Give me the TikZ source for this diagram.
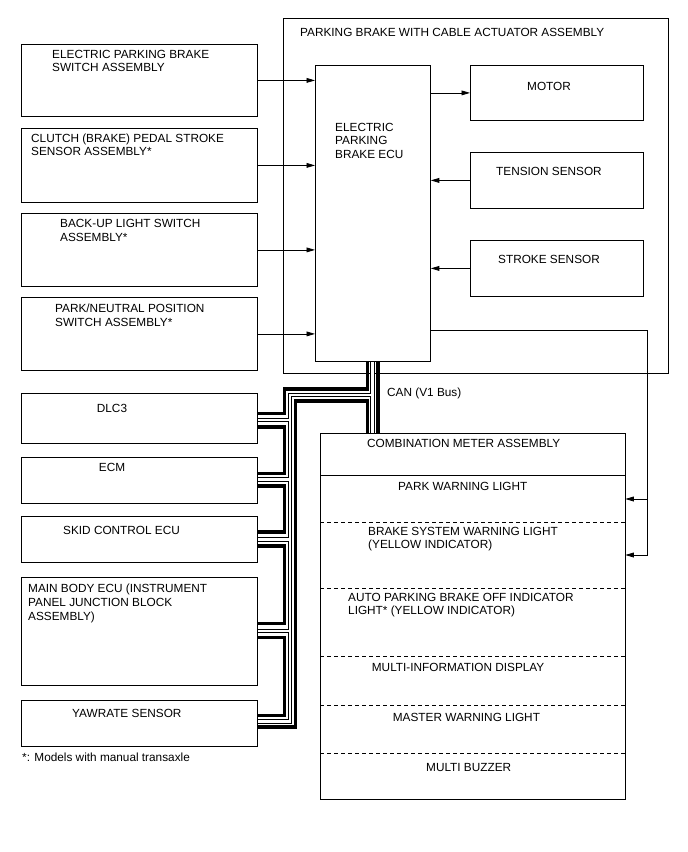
\documentclass[tikz,border=0pt]{standalone}
\usepackage{fontspec}
\setmainfont{Liberation Sans}
\usetikzlibrary{arrows.meta,positioning}
\newcommand{\epbfont}{\fontsize{11.8}{13.8}\selectfont}
\tikzset{
  epbbox/.style={draw, line width=0.8pt, anchor=north west, inner sep=0pt},
  epbtxt/.style={anchor=base west, inner sep=0pt, align=left, font=\epbfont},
  epbarr/.style={-{Triangle[length=8.5pt,width=4.8pt]}, line width=0.8pt},
  canthick/.style={line width=3.8pt},
  canouter/.style={line width=4.4pt},
  caninner/.style={line width=2.2pt, draw=white, shorten <=0.5pt, shorten >=0.5pt},
  sepdash/.style={line width=0.8pt, dash pattern=on 4pt off 3pt}
}
\begin{document}
\begin{tikzpicture}[x=1pt, y=-1pt]
\useasboundingbox (0,0) rectangle (688,852);
% inputs to the ECU (base of a text node = its last line)
\node[epbbox, minimum width=236pt, minimum height=72pt] (swepb) at (21,44) {};
\node[epbbox, minimum width=236pt, minimum height=74pt] (clutch) at (21,128) {};
\node[epbbox, minimum width=236pt, minimum height=73pt] (backup) at (21,213) {};
\node[epbbox, minimum width=236pt, minimum height=73pt] (pnpos) at (21,297) {};
\node[epbtxt] (swepbtxt) at (52,71.8) {ELECTRIC PARKING BRAKE\\SWITCH ASSEMBLY};
\node[epbtxt] (clutchtxt) at (31,155.8) {CLUTCH (BRAKE) PEDAL STROKE\\SENSOR ASSEMBLY*};
\node[epbtxt] (backuptxt) at (60,241.3) {BACK-UP LIGHT SWITCH\\ASSEMBLY*};
\node[epbtxt] (pnpostxt) at (55,326.3) {PARK/NEUTRAL POSITION\\SWITCH ASSEMBLY*};
% actuator assembly
\node[epbbox, minimum width=385pt, minimum height=355pt] (epbassy) at (283,18) {};
\node[epbtxt] (epbassytxt) at (300,36.5) {PARKING BRAKE WITH CABLE ACTUATOR ASSEMBLY};
\node[epbbox, minimum width=115pt, minimum height=296pt] (ecu) at (315,65) {};
\node[epbtxt] (ecutxt) at (335,158.6) {ELECTRIC\\PARKING\\BRAKE ECU};
\node[epbbox, minimum width=173pt, minimum height=55pt] (motor) at (470,65) {};
\node[epbbox, minimum width=173pt, minimum height=56pt] (tension) at (470,152) {};
\node[epbbox, minimum width=173pt, minimum height=56pt] (stroke) at (470,240) {};
\node[epbtxt] (motortxt) at (527,90.5) {MOTOR};
\node[epbtxt] (tensiontxt) at (496,175.5) {TENSION SENSOR};
\node[epbtxt] (stroketxt) at (498,263.5) {STROKE SENSOR};
% CAN nodes
\node[epbbox, minimum width=236pt, minimum height=50pt] (dlc) at (21,393) {};
\node[epbbox, minimum width=236pt, minimum height=46pt] (ecm) at (21,457) {};
\node[epbbox, minimum width=236pt, minimum height=46pt] (skid) at (21,516) {};
\node[epbbox, minimum width=236pt, minimum height=108pt] (mainbody) at (21,577) {};
\node[epbbox, minimum width=236pt, minimum height=46pt] (yaw) at (21,700) {};
\node[epbtxt, anchor=base] (dlctxt) at (112,412.5) {DLC3};
\node[epbtxt, anchor=base] (ecmtxt) at (112,471.5) {ECM};
\node[epbtxt] (skidtxt) at (63,534.5) {SKID CONTROL ECU};
\node[epbtxt] (mainbodytxt) at (28,620.1) {MAIN BODY ECU (INSTRUMENT\\PANEL JUNCTION BLOCK\\ASSEMBLY)};
\node[epbtxt] (yawtxt) at (72,717.5) {YAWRATE SENSOR};
\node[epbtxt] (notetxt) at (22,761.7) {*: Models with manual transaxle};
\node[epbtxt] (cantxt) at (387,396) {CAN (V1 Bus)};
% combination meter
\node[epbbox, minimum width=304.5pt, minimum height=366pt] (meter) at (320,433) {};
\node[epbtxt] (metertxt) at (367,447) {COMBINATION METER ASSEMBLY};
\node[epbtxt] (parktxt) at (398,490) {PARK WARNING LIGHT};
\node[epbtxt] (braketxt) at (368,548.8) {BRAKE SYSTEM WARNING LIGHT\\(YELLOW INDICATOR)};
\node[epbtxt] (autotxt) at (348,614.8) {AUTO PARKING BRAKE OFF INDICATOR\\LIGHT* (YELLOW INDICATOR)};
\node[epbtxt] (multitxt) at (371.7,671.7) {MULTI-INFORMATION DISPLAY};
\node[epbtxt] (mastertxt) at (392.7,721.7) {MASTER WARNING LIGHT};
\node[epbtxt] (buzzertxt) at (426,771) {MULTI BUZZER};
\draw[line width=0.8pt] (meter.west |- 0,475) -- (meter.east |- 0,475);
\draw[sepdash] (meter.west |- 0,522.3) -- (meter.east |- 0,522.3);
\draw[sepdash] (meter.west |- 0,588.3) -- (meter.east |- 0,588.3);
\draw[sepdash] (meter.west |- 0,656) -- (meter.east |- 0,656);
\draw[sepdash] (meter.west |- 0,705) -- (meter.east |- 0,705);
\draw[sepdash] (meter.west |- 0,753) -- (meter.east |- 0,753);
% signal lines
\draw[epbarr] (swepb.east) -- (swepb.east -| ecu.west);
\draw[epbarr] (clutch.east) -- (clutch.east -| ecu.west);
\draw[epbarr] (backup.east) -- (backup.east -| ecu.west);
\draw[epbarr] (pnpos.east) -- (pnpos.east -| ecu.west);
\draw[epbarr] (motor.west -| ecu.east) -- (motor.west);
\draw[epbarr] (tension.west) -- (tension.west -| ecu.east);
\draw[epbarr] (stroke.west) -- (stroke.west -| ecu.east);
\draw[epbarr] (ecu.east |- 0,330) -| (647,555) -- (meter.east |- 0,555);
\draw[epbarr] (647,499) -- (meter.east |- 0,499);
% CAN bus, solid wire
\draw[canthick] (ecu.south -| 367.5,0) |- (284.5,389) |- (dlc.east |- 0,413.5);
\draw[canthick] (dlc.east |- 0,427) -| (284.5,450) |- (ecm.east |- 0,473.5);
\draw[canthick] (ecm.east |- 0,486) -| (284.5,510) |- (skid.east |- 0,532);
\draw[canthick] (skid.east |- 0,546) -| (284.5,590) |- (mainbody.east |- 0,623.5);
\draw[canthick] (mainbody.east |- 0,637.5) -| (284.5,690) |- (yaw.east |- 0,715.5);
\draw[canthick] (yaw.east |- 0,727) -| (295.5,401) -| (meter.north -| 367.5,0);
\draw[canthick] (ecu.south -| 378,0) -- (meter.north -| 378,0);
% CAN bus, hollow wire
\foreach \s in {canouter, caninner} {
  \draw[\s] (ecu.south -| 372.5,0) -- (meter.north -| 372.5,0);
  \draw[\s] (372.5,395) -| (290,721.5) -- (yaw.east |- 0,721.5);
  \draw[\s] (290,420) -- (dlc.east |- 0,420);
  \draw[\s] (290,479.5) -- (ecm.east |- 0,479.5);
  \draw[\s] (290,539.5) -- (skid.east |- 0,539.5);
  \draw[\s] (290,631) -- (mainbody.east |- 0,631);
}
\end{tikzpicture}
\end{document}
